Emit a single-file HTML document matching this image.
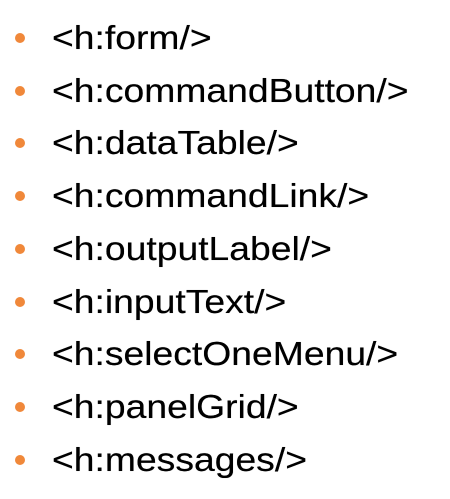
<!DOCTYPE html>
<html><head><style>
body{margin:0;width:450px;height:499px;background:#fff;position:relative;overflow:hidden;font-family:"Liberation Sans",Arial,sans-serif;}
.b{position:absolute;left:15px;width:10px;height:10px;border-radius:50%;background:#f0883a;}
.t{position:absolute;left:52px;font-size:33px;line-height:33px;color:#000;transform:scaleX(1.13);transform-origin:0 0;white-space:nowrap;text-shadow:0 0 0.4px #000;}
</style></head><body>
<div class="b" style="top:33px"></div><div class="t" style="top:21px">&lt;h:form/&gt;</div>
<div class="b" style="top:86px"></div><div class="t" style="top:74px">&lt;h:commandButton/&gt;</div>
<div class="b" style="top:138px"></div><div class="t" style="top:126px">&lt;h:dataTable/&gt;</div>
<div class="b" style="top:191px"></div><div class="t" style="top:179px">&lt;h:commandLink/&gt;</div>
<div class="b" style="top:244px"></div><div class="t" style="top:232px">&lt;h:outputLabel/&gt;</div>
<div class="b" style="top:297px"></div><div class="t" style="top:285px">&lt;h:inputText/&gt;</div>
<div class="b" style="top:349px"></div><div class="t" style="top:337px">&lt;h:selectOneMenu/&gt;</div>
<div class="b" style="top:402px"></div><div class="t" style="top:390px">&lt;h:panelGrid/&gt;</div>
<div class="b" style="top:455px"></div><div class="t" style="top:443px">&lt;h:messages/&gt;</div>
</body></html>
